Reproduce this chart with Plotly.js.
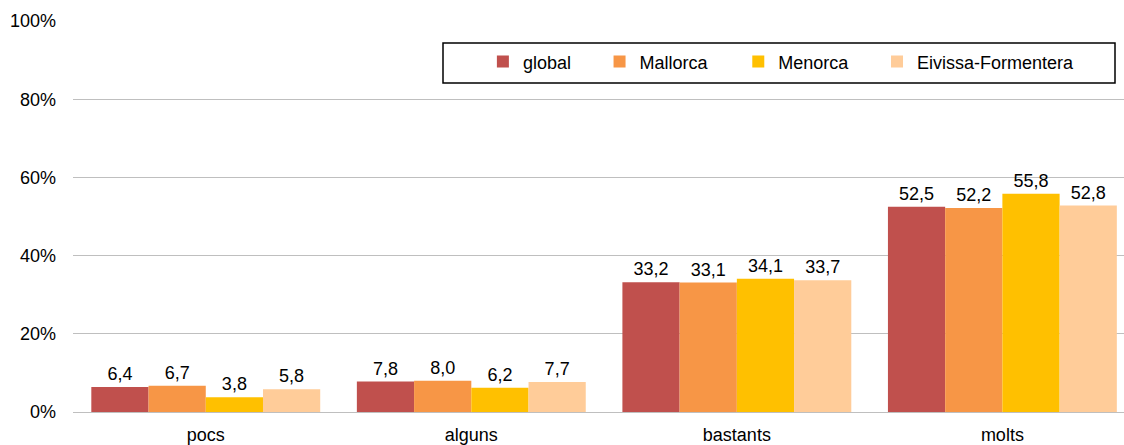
<!DOCTYPE html>
<html>
<head>
<meta charset="utf-8">
<script src="https://cdn.plot.ly/plotly-3.0.1.min.js"></script>
<style>html,body{margin:0;padding:0;background:#fff;}#chart{width:1124px;height:445px;}</style>
</head>
<body>
<div id="chart"></div>
<script>
const categories = ["pocs", "alguns", "bastants", "molts"];
const seriesNames = ["global", "Mallorca", "Menorca", "Eivissa-Formentera"];
const globalVals = [6.4, 7.8, 33.2, 52.5];
const mallorcaVals = [6.7, 8.0, 33.1, 52.2];
const menorcaVals = [3.8, 6.2, 34.1, 55.8];
const eivissaVals = [5.8, 7.7, 33.7, 52.8];
const colors = ["#C0504D", "#F79646", "#FFC000", "#FFCC99"];
const yTickVals = [0, 20, 40, 60, 80, 100];
const yTickText = ["0%", "20%", "40%", "60%", "80%", "100%"];

const FONT = "Liberation Sans, Arial, sans-serif";
const legendIds = ["legend", "legend2", "legend3", "legend4"];
const legendX = [0.390, 0.501, 0.633, 0.765];

const allVals = [globalVals, mallorcaVals, menorcaVals, eivissaVals];
const traces = allVals.map((vals, i) => ({
  type: "bar",
  name: seriesNames[i],
  legend: legendIds[i],
  x: categories,
  y: vals,
  marker: {color: colors[i]},
  texttemplate: "%{y:.1f}",
  textposition: "outside",
  textfont: {family: FONT, size: 18, color: "#000"},
  cliponaxis: false,
  hoverinfo: "none"
}));

const layout = {
  width: 1124, height: 445,
  margin: {l: 73, r: 0, t: 21, b: 32.5},
  paper_bgcolor: "#fff", plot_bgcolor: "#fff",
  separators: ",.",
  font: {family: FONT, size: 18, color: "#000"},
  barmode: "group",
  bargap: 0.138,
  bargroupgap: 0,
  showlegend: true,
  shapes: [{
    type: "rect", xref: "paper", yref: "paper",
    x0: (443 - 73) / 1051, x1: (1115 - 73) / 1051,
    y0: 1 - (83 - 21) / 391.5, y1: 1 - (43 - 21) / 391.5,
    line: {color: "#000", width: 1.5},
    fillcolor: "#fff", layer: "below"
  }],
  xaxis: {
    type: "category",
    range: [-0.5, 3.458],
    showgrid: false, zeroline: false, showline: false,
    ticks: "",
    ticklabelstandoff: 10,
    tickfont: {size: 18}
  },
  yaxis: {
    range: [0, 100],
    tickvals: yTickVals,
    ticktext: yTickText,
    showgrid: true, gridcolor: "#BFBFBF", gridwidth: 1,
    zeroline: true, zerolinecolor: "#BFBFBF", zerolinewidth: 1,
    showline: false,
    ticks: "",
    ticklabelstandoff: 16,
    tickfont: {size: 18}
  }
};
legendIds.forEach((id, i) => {
  layout[id] = {
    orientation: "h",
    x: legendX[i], xanchor: "left",
    y: 0.943, yanchor: "top",
    borderwidth: 0,
    bgcolor: "rgba(0,0,0,0)",
    font: {size: 18}
  };
});

Plotly.newPlot("chart", traces, layout, {staticPlot: true});
</script>
</body>
</html>
